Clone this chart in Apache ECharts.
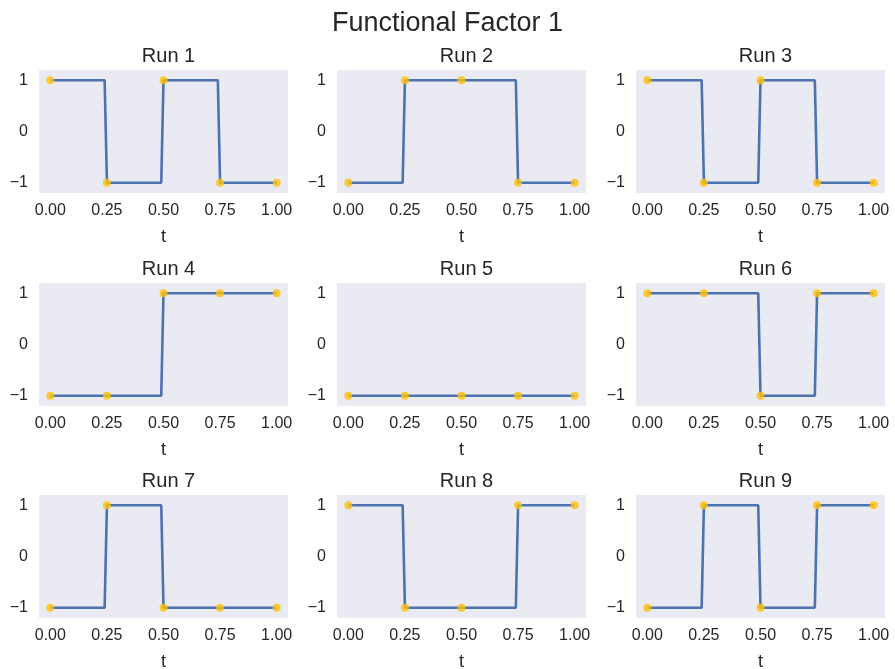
<!DOCTYPE html>
<html>
<head>
<meta charset="utf-8">
<title>Functional Factor 1</title>
<script src="https://cdn.jsdelivr.net/npm/echarts@6/dist/echarts.min.js"></script>
<style>
  html, body { margin: 0; padding: 0; background: #fff; }
  #main { width: 895px; height: 669px; }
</style>
</head>
<body>
<div id="main"></div>
<script>
// knots of the functional factor (t) and value at each knot, one array per run
var knots = [0, 0.25, 0.5, 0.75, 1];
var run1 = [1, -1, 1, -1, -1];
var run2 = [-1, 1, 1, -1, -1];
var run3 = [1, -1, 1, -1, -1];
var run4 = [-1, -1, 1, 1, 1];
var run5 = [-1, -1, -1, -1, -1];
var run6 = [1, 1, -1, 1, 1];
var run7 = [-1, 1, -1, -1, -1];
var run8 = [1, -1, -1, 1, 1];
var run9 = [-1, 1, -1, 1, 1];
var runs = [run1, run2, run3, run4, run5, run6, run7, run8, run9];
var runNames = ['Run 1', 'Run 2', 'Run 3', 'Run 4', 'Run 5', 'Run 6', 'Run 7', 'Run 8', 'Run 9'];

var xTicks = [0, 0.25, 0.5, 0.75, 1];
var yTicks = [-1, 0, 1];
var gridStep = 0.01; // the curve is sampled on a 0.01 grid, so jumps are slightly slanted

var colLeft = [39, 337, 636];
var rowTop = [70, 283, 495];
var cellW = 249, cellH = 123;
var font = '"Liberation Sans", Arial, sans-serif';
var textColor = '#262626';

// piecewise constant curve: value of knot k holds until the next knot
function stepLine(vals) {
  var pts = [];
  for (var k = 0; k < knots.length - 1; k++) {
    pts.push([knots[k], vals[k]]);
    pts.push([knots[k + 1] - gridStep, vals[k]]);
  }
  pts.push([knots[knots.length - 1], vals[vals.length - 1]]);
  return pts;
}

var titles = [{
  text: 'Functional Factor 1',
  left: 'center',
  top: 5,
  textStyle: { fontFamily: font, fontSize: 27, fontWeight: 'normal', color: textColor }
}];
var grids = [], xAxes = [], yAxes = [], series = [];

runs.forEach(function (vals, i) {
  var r = Math.floor(i / 3), c = i % 3;
  grids.push({
    left: colLeft[c], top: rowTop[r], width: cellW, height: cellH,
    outerBoundsMode: 'none', containLabel: false,
    show: true, backgroundColor: '#eaeaf2', borderWidth: 0
  });
  titles.push({
    text: runNames[i],
    left: colLeft[c] + cellW / 2,
    top: rowTop[r] - 29,
    textAlign: 'center',
    textStyle: { fontFamily: font, fontSize: 20, fontWeight: 'normal', color: textColor }
  });
  xAxes.push({
    type: 'value', gridIndex: i, min: -0.05, max: 1.05,
    name: 't', nameLocation: 'middle', nameGap: 35,
    nameTextStyle: { fontFamily: font, fontSize: 18, color: textColor },
    axisLine: { show: false }, splitLine: { show: false },
    axisTick: { show: false, customValues: xTicks },
    axisLabel: {
      customValues: xTicks, margin: 10,
      fontFamily: font, fontSize: 16, color: textColor,
      formatter: function (v) { return v.toFixed(2); }
    }
  });
  yAxes.push({
    type: 'value', gridIndex: i, min: -1.2, max: 1.2,
    axisLine: { show: false }, splitLine: { show: false },
    axisTick: { show: false, customValues: yTicks },
    axisLabel: {
      customValues: yTicks, margin: 11,
      fontFamily: font, fontSize: 16, color: textColor,
      formatter: function (v) { return v < 0 ? '\u2212' + Math.abs(v) : String(v); }
    }
  });
  series.push({
    type: 'line', xAxisIndex: i, yAxisIndex: i,
    data: stepLine(vals), showSymbol: false, symbol: 'none',
    lineStyle: { color: '#4c72b0', width: 2.6 }, z: 2, silent: true
  });
  series.push({
    type: 'scatter', xAxisIndex: i, yAxisIndex: i,
    data: knots.map(function (t, k) { return [t, vals[k]]; }),
    symbolSize: 8, itemStyle: { color: '#ffc107' }, z: 3, silent: true
  });
});

var chart = echarts.init(document.getElementById('main'), null, { renderer: 'canvas' });
chart.setOption({
  animation: false,
  title: titles,
  grid: grids,
  xAxis: xAxes,
  yAxis: yAxes,
  series: series
});
</script>
</body>
</html>
